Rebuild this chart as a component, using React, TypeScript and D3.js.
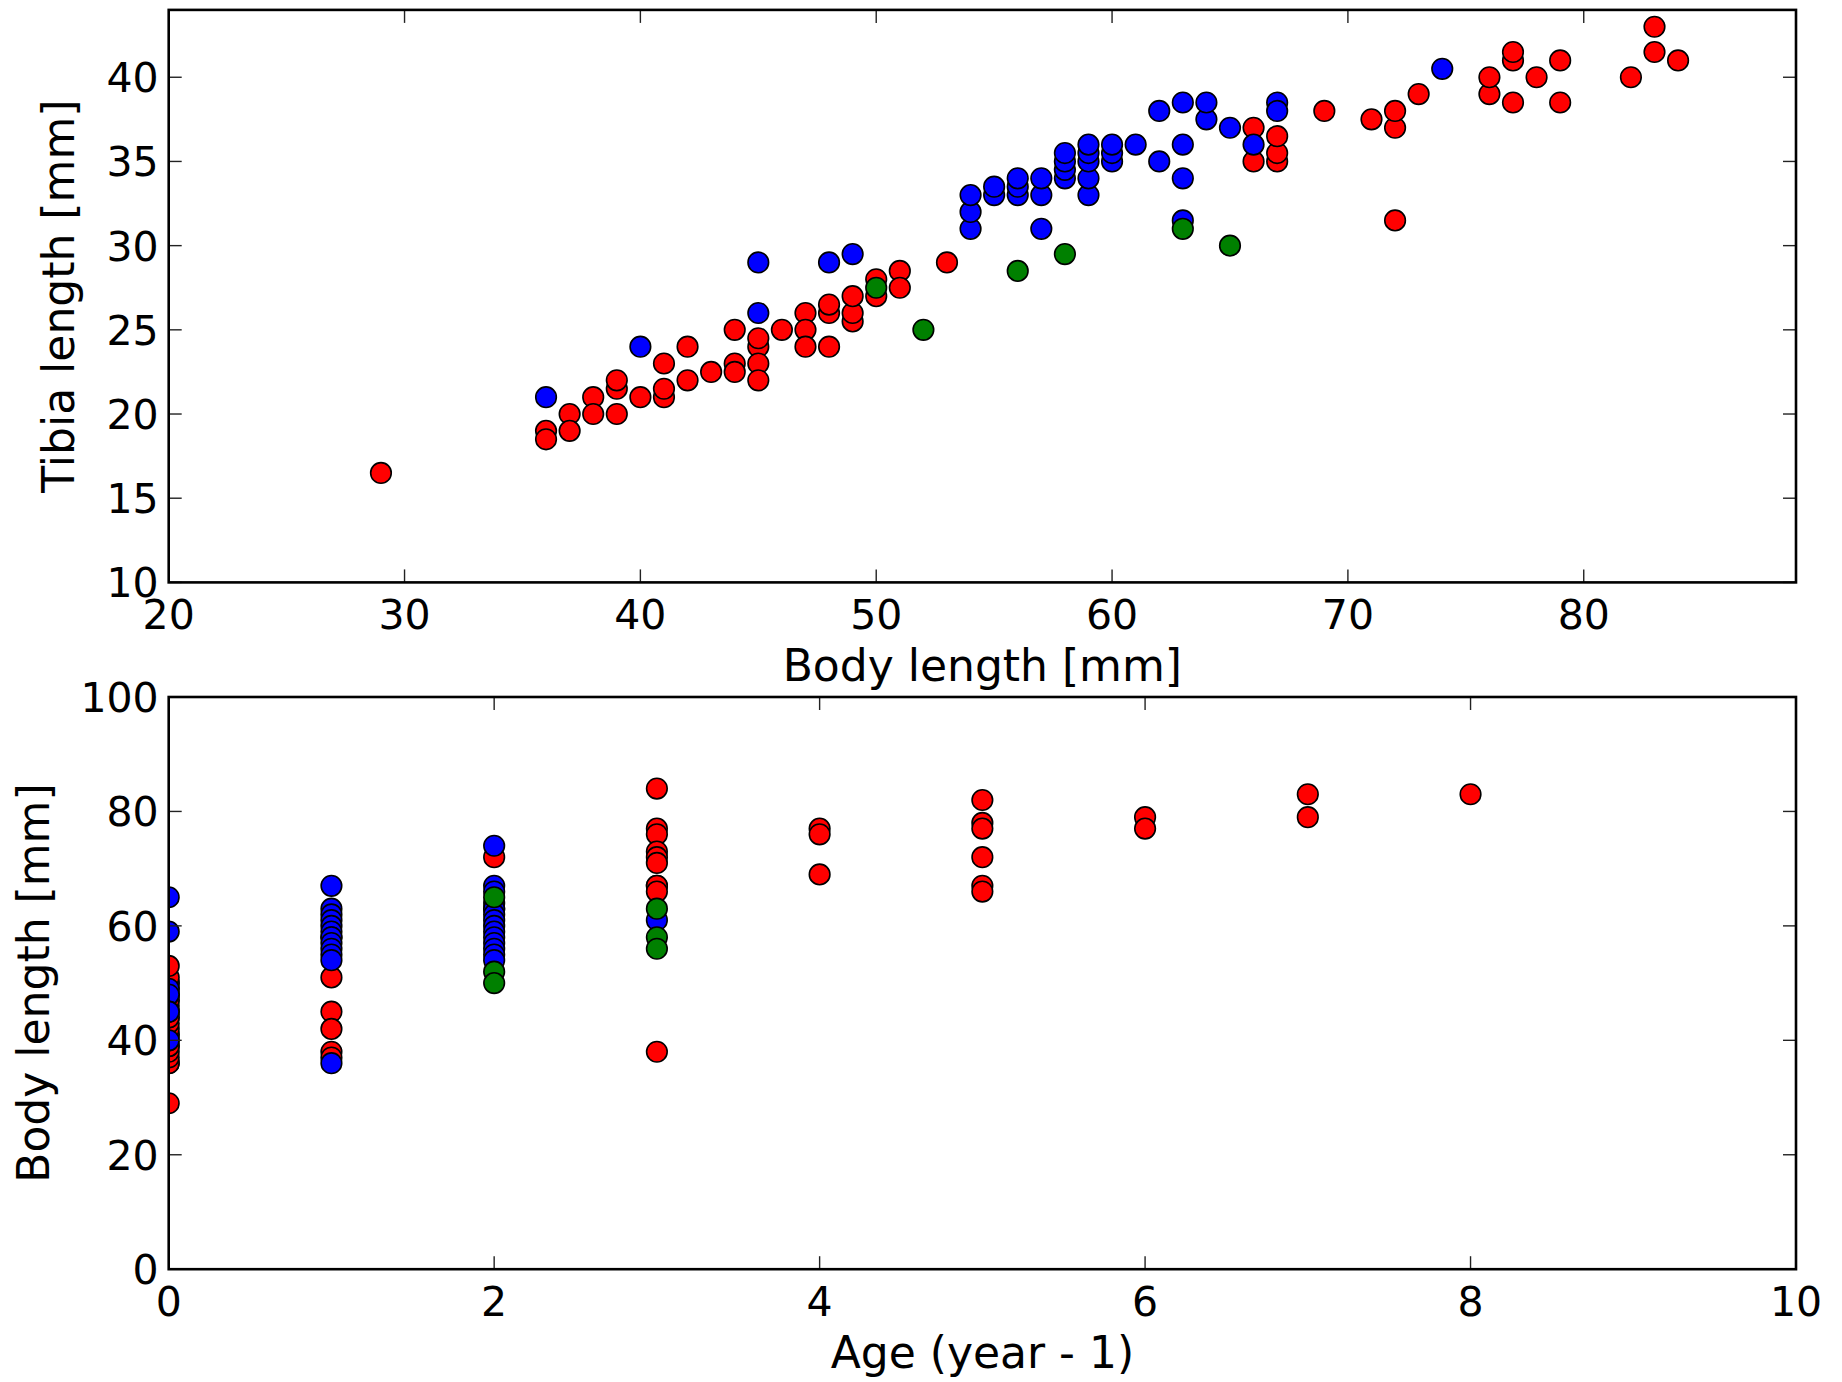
import React from "react";
import * as d3 from "d3";

// ---------- Data: top panel (Body length [mm], Tibia length [mm]) ----------
const tibiaRed: [number, number][] = [
  [29, 16.5], [36, 19], [36, 18.5], [37, 20], [37, 19], [38, 21], [38, 20],
  [39, 21.5], [39, 22], [39, 20], [40, 21], [41, 21], [41, 23], [41, 21.5],
  [42, 24], [42, 22], [43, 22.5], [44, 25], [44, 23], [44, 22.5],
  [45, 24], [45, 24.5], [45, 23], [45, 22], [46, 25], [47, 26], [47, 25], [47, 24],
  [48, 26], [48, 26.5], [48, 24], [49, 25.5], [49, 26], [49, 27], [50, 27], [50, 28],
  [51, 28.5], [51, 27.5], [53, 29], [66, 37], [66, 35], [67, 35], [67, 35.5], [67, 36.5],
  [69, 38], [71, 37.5], [72, 37], [72, 38], [72, 31.5], [73, 39], [76, 39], [76, 40],
  [77, 41], [77, 41.5], [77, 38.5], [78, 40], [79, 41], [79, 38.5], [82, 40],
  [83, 41.5], [83, 43], [84, 41],
];
const tibiaBlue: [number, number][] = [
  [36, 21], [40, 24], [45, 29], [45, 26], [48, 29], [49, 29.5],
  [54, 31], [54, 32], [54, 33], [55, 33], [55, 33.5], [56, 33], [56, 33.5], [56, 34],
  [57, 31], [57, 33], [57, 34], [58, 34], [58, 34.5], [58, 35], [58, 35.5],
  [59, 33], [59, 34], [59, 35], [59, 35.5], [59, 36], [60, 35], [60, 35.5], [60, 36],
  [61, 36], [62, 35], [62, 38], [63, 31.5], [63, 34], [63, 36], [63, 38.5],
  [64, 37.5], [64, 38.5], [65, 37], [66, 36], [67, 38.5], [67, 38], [74, 40.5],
];
const tibiaGreen: [number, number][] = [
  [50, 27.5], [52, 25], [56, 28.5], [58, 29.5], [63, 31], [65, 30],
];

// ---------- Data: bottom panel (Age (year - 1), Body length [mm]) ----------
const ageRed: [number, number][] = [
  [0, 29], [0, 36], [0, 36], [0, 37], [0, 38], [0, 39], [0, 39], [0, 40], [0, 41],
  [0, 41], [0, 42], [0, 43], [0, 44], [0, 44], [0, 45], [0, 46], [0, 47], [0, 47],
  [0, 48], [0, 48], [0, 49], [0, 50], [0, 50], [0, 51], [0, 53],
  [1, 51], [1, 45], [1, 42], [1, 38], [1, 37],
  [2, 72],
  [3, 84], [3, 77], [3, 76], [3, 73], [3, 72], [3, 71], [3, 67], [3, 67], [3, 66], [3, 38],
  [4, 77], [4, 76], [4, 69],
  [5, 82], [5, 78], [5, 77], [5, 72], [5, 67], [5, 66],
  [6, 79], [6, 77],
  [7, 83], [7, 79],
  [8, 83],
];
const ageBlue: [number, number][] = [
  [0, 65], [0, 59], [0, 49], [0, 48], [0, 45], [0, 45], [0, 40],
  [1, 67], [1, 63], [1, 62], [1, 61], [1, 60], [1, 59], [1, 58], [1, 58], [1, 57],
  [1, 56], [1, 55], [1, 54], [1, 36],
  [2, 74], [2, 67], [2, 66], [2, 64], [2, 63], [2, 63], [2, 62], [2, 61], [2, 60],
  [2, 59], [2, 58], [2, 57], [2, 56], [2, 55], [2, 54],
  [3, 61],
];
const ageGreen: [number, number][] = [
  [2, 65], [2, 52], [2, 50], [3, 63], [3, 58], [3, 56],
];

// ---------- Axis ticks and labels ----------
const topXTicks = [20, 30, 40, 50, 60, 70, 80];
const topYTicks = [10, 15, 20, 25, 30, 35, 40];
const botXTicks = [0, 2, 4, 6, 8, 10];
const botYTicks = [0, 20, 40, 60, 80, 100];
const topXLabel = "Body length [mm]";
const topYLabel = "Tibia length [mm]";
const botXLabel = "Age (year - 1)";
const botYLabel = "Body length [mm]";

const COLORS = { red: "#ff0000", blue: "#0000ff", green: "#008000" };
const FONT = "DejaVu Sans";
const TICK_FS = 41;
const LABEL_FS = 44;

type PanelProps = {
  id: string;
  xDomain: [number, number];
  yDomain: [number, number];
  xTicks: number[];
  yTicks: number[];
  top: number;
  bottom: number;
  series: { data: [number, number][]; color: string }[];
  xLabel: string;
  yLabel: string;
  yLabelX: number;
};

const LEFT = 168.7;
const RIGHT = 1796;

function Panel(p: PanelProps) {
  const x = d3.scaleLinear().domain(p.xDomain).range([LEFT, RIGHT]);
  const y = d3.scaleLinear().domain(p.yDomain).range([p.bottom, p.top]);
  const tl = 13;
  const tickStroke = "#222";
  return (
    <g>
      <defs>
        <clipPath id={p.id}>
          <rect x={LEFT} y={p.top} width={RIGHT - LEFT} height={p.bottom - p.top} />
        </clipPath>
      </defs>
      <g clipPath={`url(#${p.id})`}>
        {p.series.map((s, si) =>
          s.data.map((d, i) => (
            <circle
              key={`${si}-${i}`}
              cx={x(d[0])}
              cy={y(d[1])}
              r={10.3}
              fill={s.color}
              stroke="#000"
              strokeWidth={1.6}
            />
          ))
        )}
      </g>
      {p.xTicks.map((t) => (
        <g key={`xt${t}`}>
          <line x1={x(t)} x2={x(t)} y1={p.bottom} y2={p.bottom - tl} stroke={tickStroke} strokeWidth={1.4} />
          <line x1={x(t)} x2={x(t)} y1={p.top} y2={p.top + tl} stroke={tickStroke} strokeWidth={1.4} />
          <text x={x(t)} y={p.bottom + 46.5} textAnchor="middle" fontFamily={FONT} fontSize={TICK_FS}>
            {t}
          </text>
        </g>
      ))}
      {p.yTicks.map((t) => (
        <g key={`yt${t}`}>
          <line x1={LEFT} x2={LEFT + tl} y1={y(t)} y2={y(t)} stroke={tickStroke} strokeWidth={1.4} />
          <line x1={RIGHT} x2={RIGHT - tl} y1={y(t)} y2={y(t)} stroke={tickStroke} strokeWidth={1.4} />
          <text x={LEFT - 10} y={y(t) + TICK_FS * 0.3645} textAnchor="end" fontFamily={FONT} fontSize={TICK_FS}>
            {t}
          </text>
        </g>
      ))}
      <rect
        x={LEFT}
        y={p.top}
        width={RIGHT - LEFT}
        height={p.bottom - p.top}
        fill="none"
        stroke="#000"
        strokeWidth={2.6}
      />
      <text
        x={(LEFT + RIGHT) / 2}
        y={p.bottom + 99}
        textAnchor="middle"
        fontFamily={FONT}
        fontSize={LABEL_FS}
      >
        {p.xLabel}
      </text>
      <text
        transform={`translate(${p.yLabelX},${(p.top + p.bottom) / 2}) rotate(-90)`}
        textAnchor="middle"
        fontFamily={FONT}
        fontSize={LABEL_FS}
      >
        {p.yLabel}
      </text>
    </g>
  );
}

export default function App() {
  return (
    <svg
      width={1842}
      height={1382}
      style={{ position: "absolute", left: 0, top: 0, background: "#fff" }}
    >
      <rect width={1842} height={1382} fill="#fff" />
      <Panel
        id="clipTop"
        xDomain={[20, 89]}
        yDomain={[10, 44]}
        xTicks={topXTicks}
        yTicks={topYTicks}
        top={9.9}
        bottom={582.4}
        series={[
          { data: tibiaRed, color: COLORS.red },
          { data: tibiaBlue, color: COLORS.blue },
          { data: tibiaGreen, color: COLORS.green },
        ]}
        xLabel={topXLabel}
        yLabel={topYLabel}
        yLabelX={74}
      />
      <Panel
        id="clipBot"
        xDomain={[0, 10]}
        yDomain={[0, 100]}
        xTicks={botXTicks}
        yTicks={botYTicks}
        top={697}
        bottom={1269.2}
        series={[
          { data: ageRed, color: COLORS.red },
          { data: ageBlue, color: COLORS.blue },
          { data: ageGreen, color: COLORS.green },
        ]}
        xLabel={botXLabel}
        yLabel={botYLabel}
        yLabelX={49}
      />
    </svg>
  );
}
